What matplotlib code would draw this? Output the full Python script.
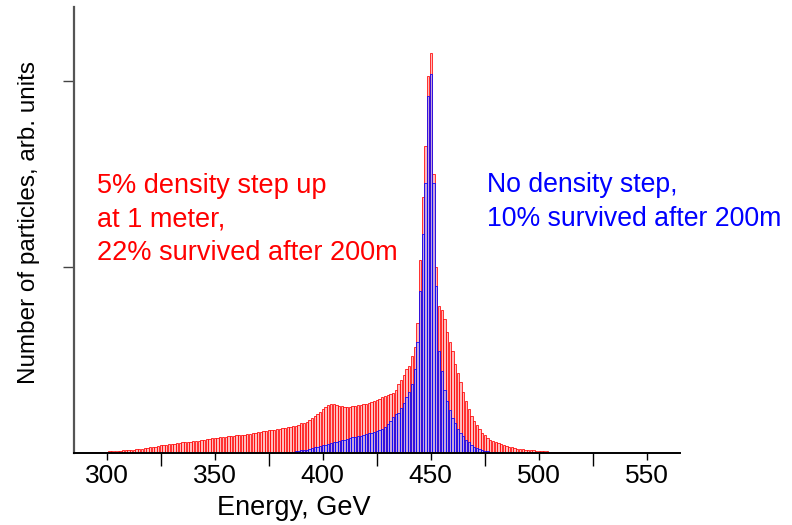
import matplotlib
matplotlib.use("Agg")
import matplotlib.pyplot as plt
from matplotlib.ticker import FixedLocator
import numpy as np

plt.rcParams['font.family'] = ['Liberation Sans', 'DejaVu Sans']

# histogram bins, GeV
bin_start = 289.5
bin_width = 1.25

# 5% density step up (red), one value per bin starting at bin_start
red_counts = [
    0.003, 0.003, 0.004, 0.004, 0.005, 0.006, 0.006, 0.007, 0.008, 0.009,
    0.010, 0.011, 0.012, 0.013, 0.014, 0.015, 0.016, 0.017, 0.019, 0.020,
    0.022, 0.024, 0.025, 0.027, 0.030, 0.032, 0.035, 0.038, 0.041, 0.043,
    0.045, 0.047, 0.049, 0.051, 0.053, 0.055, 0.057, 0.058, 0.060, 0.062,
    0.063, 0.065, 0.067, 0.069, 0.071, 0.074, 0.077, 0.080, 0.081, 0.083,
    0.085, 0.086, 0.088, 0.090, 0.092, 0.093, 0.095, 0.096, 0.098, 0.099,
    0.101, 0.103, 0.106, 0.109, 0.111, 0.114, 0.117, 0.120, 0.122, 0.124,
    0.126, 0.128, 0.131, 0.134, 0.137, 0.139, 0.142, 0.145, 0.148, 0.153,
    0.160, 0.164, 0.168, 0.178, 0.190, 0.200, 0.212, 0.222, 0.238, 0.250,
    0.258, 0.262, 0.262, 0.258, 0.255, 0.252, 0.250, 0.248, 0.250, 0.252,
    0.255, 0.258, 0.260, 0.262, 0.265, 0.270, 0.275, 0.280, 0.285, 0.292,
    0.300, 0.307, 0.312, 0.318, 0.325, 0.340, 0.370, 0.395, 0.420, 0.450,
    0.470, 0.520, 0.570, 0.700, 1.040, 1.375, 1.650, 2.030, 2.150, 1.500,
    1.000, 0.790, 0.770, 0.720, 0.650, 0.600, 0.550, 0.480, 0.430, 0.380,
    0.330, 0.280, 0.235, 0.200, 0.175, 0.150, 0.130, 0.110, 0.095, 0.083,
    0.072, 0.064, 0.058, 0.052, 0.048, 0.044, 0.040, 0.035, 0.030, 0.027,
    0.024, 0.022, 0.020, 0.018, 0.016, 0.015, 0.014, 0.013, 0.012, 0.011,
    0.010, 0.009, 0.008, 0.007, 0.006, 0.006, 0.005, 0.005, 0.004, 0.004,
    0.003, 0.003, 0.003, 0.002, 0.002, 0.002,
]

# no density step (blue), starts at bin number blue_first
blue_first = 75
blue_counts = [
    0.004, 0.006, 0.008, 0.010, 0.012,
    0.014, 0.016, 0.019, 0.022, 0.026, 0.030, 0.035, 0.038, 0.042, 0.046,
    0.050, 0.055, 0.059, 0.062, 0.065, 0.068, 0.071, 0.075, 0.080, 0.084,
    0.087, 0.090, 0.094, 0.098, 0.104, 0.107, 0.110, 0.114, 0.118, 0.122,
    0.130, 0.140, 0.155, 0.170, 0.195, 0.210, 0.215, 0.240, 0.270, 0.300,
    0.330, 0.370, 0.450, 0.600, 0.870, 1.180, 1.450, 1.920, 2.040, 1.450,
    0.900, 0.550, 0.440, 0.340, 0.280, 0.230, 0.190, 0.160, 0.130, 0.110,
    0.090, 0.072, 0.058, 0.045, 0.035, 0.028, 0.022, 0.017, 0.013, 0.010,
    0.008, 0.006, 0.005, 0.004, 0.003, 0.003, 0.002, 0.002, 0.002, 0.002,
    0.002, 0.002,
]

x_labels = [300, 350, 400, 450, 500, 550]
x_mid_ticks = [325, 375, 425, 475, 525]
y_ticks = [1, 2]

red_edges = bin_start + bin_width * np.arange(len(red_counts))
blue_edges = bin_start + bin_width * (blue_first + np.arange(len(blue_counts)))

fig = plt.figure(figsize=(7.92, 5.25), dpi=100)
ax = fig.add_axes([0.0934, 0.137, 0.765, 0.85])

ax.bar(red_edges, red_counts, width=bin_width * 0.85, align='edge',
       facecolor=(1.0, 0.62, 0.62, 0.7), edgecolor='red', linewidth=0.55)
ax.bar(blue_edges, blue_counts, width=bin_width * 0.85, align='edge',
       facecolor=(0.55, 0.55, 1.0, 0.5), edgecolor='blue', linewidth=0.55)

ax.set_xlim(284.8, 565.3)
ax.set_ylim(0, 2.40)

ax.set_xticks(x_labels)
ax.set_xticklabels([str(v) for v in x_labels], fontsize=19)
ax.xaxis.set_minor_locator(FixedLocator(x_mid_ticks))
ax.tick_params(axis='x', which='major', direction='out', length=5, width=1, pad=3)
ax.tick_params(axis='x', which='minor', direction='out', length=9, width=1)

ax.set_yticks(y_ticks)
ax.set_yticklabels([])
ax.tick_params(axis='y', which='major', direction='out', length=8, width=1, color='#444444')

ax.spines['top'].set_visible(False)
ax.spines['right'].set_visible(False)
ax.spines['left'].set_color('#555555')
ax.spines['left'].set_linewidth(1.6)
ax.spines['bottom'].set_color('black')
ax.spines['bottom'].set_linewidth(1.4)

ax.set_xlabel("Energy, GeV", fontsize=19.5)
ax.xaxis.set_label_coords(0.363, -0.094)
ax.set_ylabel("Number of particles, arb. units", fontsize=17.5)
ax.yaxis.set_label_coords(-0.056, 0.516)

ax.text(0.038, 0.523, "5% density step up\nat 1 meter,\n22% survived after 200m",
        transform=ax.transAxes, color='red', fontsize=19.5, va='center', ha='left',
        linespacing=1.37)
ax.text(0.681, 0.562, "No density step,\n10% survived after 200m",
        transform=ax.transAxes, color='blue', fontsize=19.2, va='center', ha='left',
        linespacing=1.4)

fig.savefig("out.png", dpi=100)
